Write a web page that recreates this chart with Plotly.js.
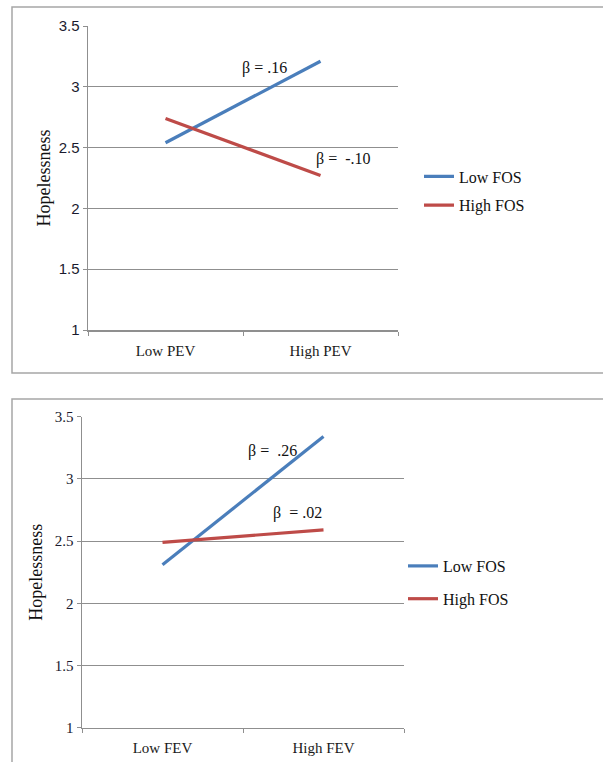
<!DOCTYPE html>
<html>
<head>
<meta charset="utf-8">
<script src="https://cdn.plot.ly/plotly-3.0.1.min.js"></script>
<style>html,body{margin:0;padding:0;background:#fff;}#chart{width:603px;height:762px;}</style>
</head>
<body>
<div id="chart"></div>
<script>
// Panel 1
var cats1 = ["Low PEV", "High PEV"];
var lowFOS1 = [2.54, 3.21];
var highFOS1 = [2.74, 2.27];
// Panel 2
var cats2 = ["Low FEV", "High FEV"];
var lowFOS2 = [2.31, 3.34];
var highFOS2 = [2.49, 2.59];
var seriesNames = ["Low FOS", "High FOS"];
var yTicks = [1, 1.5, 2, 2.5, 3, 3.5];
var yTickText = ["1", "1.5", "2", "2.5", "3", "3.5"];
var betas1 = ["\u03b2 = .16", "\u03b2 =  -.10"];
var betas2 = ["\u03b2 =  .26", "\u03b2  = .02"];

var BLUE = "#4A7EBB", RED = "#BE4B48", GRID = "#8f8f8f";
var serif = "Liberation Serif, Times New Roman, serif";

var traces = [
  {x: cats1, y: lowFOS1, name: seriesNames[0], mode: "lines", line: {color: BLUE, width: 3.2}, xaxis: "x", yaxis: "y", legend: "legend", legendgroup: "a"},
  {x: cats1, y: highFOS1, name: seriesNames[1], mode: "lines", line: {color: RED, width: 3.2}, xaxis: "x", yaxis: "y", legend: "legend", legendgroup: "b"},
  {x: cats2, y: lowFOS2, name: seriesNames[0], mode: "lines", line: {color: BLUE, width: 3.2}, xaxis: "x2", yaxis: "y2", legend: "legend2", legendgroup: "c"},
  {x: cats2, y: highFOS2, name: seriesNames[1], mode: "lines", line: {color: RED, width: 3.2}, xaxis: "x2", yaxis: "y2", legend: "legend2", legendgroup: "d"}
];

function xax(domain, anchor) {
  return {domain: domain, anchor: anchor, type: "category", range: [-0.5, 1.5],
    showline: true, linecolor: GRID, linewidth: 1.5, ticks: "outside", tickson: "boundaries",
    ticklen: 4, tickcolor: GRID, showgrid: false, zeroline: false, ticklabelstandoff: 6,
    tickfont: {family: serif, size: 15, color: "#1a1a1a"}, fixedrange: true};
}
function yax(domain, anchor, tickFamily, standoff) {
  return {domain: domain, anchor: anchor, range: [1, 3.5], tickvals: yTicks, ticktext: yTickText,
    showline: true, linecolor: GRID, linewidth: 1.5, ticks: "outside", ticklen: 4, tickcolor: GRID,
    showgrid: true, gridcolor: GRID, gridwidth: 1, zeroline: false,
    tickfont: {family: tickFamily, size: 15, color: "#1a1a2e"},
    title: {text: "Hopelessness", font: {family: serif, size: 18, color: "#111"}, standoff: standoff},
    fixedrange: true};
}

var layout = {
  width: 603, height: 762, margin: {l: 0, r: 0, t: 0, b: 0},
  paper_bgcolor: "#fff", plot_bgcolor: "#fff", showlegend: true,
  xaxis: xax([88/603, 398/603], "y"),
  yaxis: yax([1 - 330/762, 1 - 26/762], "x", "Liberation Sans, Arial, sans-serif", 3),
  xaxis2: xax([82/603, 404/603], "y2"),
  yaxis2: yax([1 - 727.7/762, 1 - 416.7/762], "x2", serif, 7),
  legend: {x: 419/603, y: 1 - 191/762, xanchor: "left", yanchor: "middle", bgcolor: "rgba(0,0,0,0)",
    font: {family: serif, size: 16, color: "#111"}, tracegroupgap: 5, itemwidth: 30},
  legend2: {x: 403/603, y: 1 - 582.5/762, xanchor: "left", yanchor: "middle", bgcolor: "rgba(0,0,0,0)",
    font: {family: serif, size: 16, color: "#111"}, tracegroupgap: 9, itemwidth: 30},
  shapes: [
    {type: "rect", xref: "paper", yref: "paper", x0: 12/603, x1: 1.01, y0: 1 - 373/762, y1: 1 - 7/762,
      line: {color: "#a6a6a6", width: 1.5}, fillcolor: "rgba(0,0,0,0)", layer: "below"},
    {type: "rect", xref: "paper", yref: "paper", x0: 12/603, x1: 1.01, y0: -0.01, y1: 1 - 399/762,
      line: {color: "#a6a6a6", width: 1.5}, fillcolor: "rgba(0,0,0,0)", layer: "below"}
  ],
  annotations: [
    {xref: "x", yref: "y", x: cats1[1], y: lowFOS1[1], text: betas1[0], showarrow: false, xshift: -56, yshift: -7,
      font: {family: serif, size: 16, color: "#111"}},
    {xref: "x", yref: "y", x: cats1[1], y: highFOS1[1], text: betas1[1], showarrow: false, xshift: 23, yshift: 17,
      font: {family: serif, size: 16, color: "#111"}},
    {xref: "x2", yref: "y2", x: cats2[1], y: lowFOS2[1], text: betas2[0], showarrow: false, xshift: -51, yshift: -14,
      font: {family: serif, size: 16, color: "#111"}},
    {xref: "x2", yref: "y2", x: cats2[1], y: highFOS2[1], text: betas2[1], showarrow: false, xshift: -26, yshift: 17,
      font: {family: serif, size: 16, color: "#111"}}
  ]
};

Plotly.newPlot("chart", traces, layout, {staticPlot: true, displayModeBar: false});
</script>
</body>
</html>
